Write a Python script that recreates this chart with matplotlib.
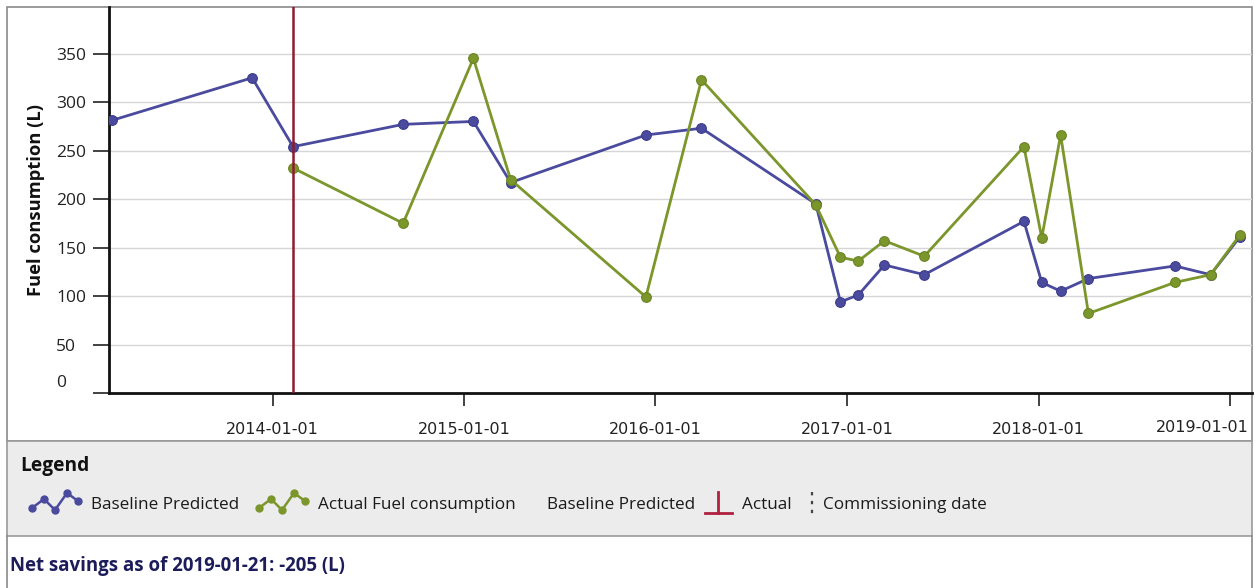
import matplotlib
matplotlib.use("Agg")
import matplotlib.pyplot as plt
from matplotlib.patches import Rectangle
from matplotlib.lines import Line2D
import numpy as np

# ---------------- data ----------------
baseline_dates = ['2013-02-28', '2013-11-23', '2014-02-09', '2014-09-07', '2015-01-19',
                  '2015-03-31', '2015-12-14', '2016-03-29', '2016-11-02', '2016-12-19',
                  '2017-01-22', '2017-03-13', '2017-05-28', '2017-12-04', '2018-01-07',
                  '2018-02-12', '2018-04-06', '2018-09-18', '2018-11-25', '2019-01-20']
baseline_values = [281, 325, 254, 277, 280, 217, 266, 273, 195, 94,
                   101, 132, 122, 177, 114, 105, 118, 131, 122, 161]

actual_dates = ['2014-02-09', '2014-09-07', '2015-01-19', '2015-03-31', '2015-12-14',
                '2016-03-29', '2016-11-02', '2016-12-19', '2017-01-22', '2017-03-13',
                '2017-05-28', '2017-12-04', '2018-01-07', '2018-02-12', '2018-04-06',
                '2018-09-18', '2018-11-25', '2019-01-20']
actual_values = [232, 175, 345, 220, 99, 323, 194, 140, 136, 157,
                 141, 254, 160, 266, 82, 114, 122, 163]

commissioning_date = '2014-02-08'
x_tick_labels = ['2014-01-01', '2015-01-01', '2016-01-01', '2017-01-01', '2018-01-01', '2019-01-01']
y_ticks = [0, 50, 100, 150, 200, 250, 300, 350]
legend_labels = ['Baseline Predicted', 'Actual Fuel consumption', 'Baseline Predicted',
                 'Actual', 'Commissioning date']
net_savings_text = 'Net savings as of 2019-01-21: -205 (L)'

# ---------------- style ----------------
W, H = 1255, 588
BLUE = '#4a4a9e'
GREEN = '#7b962a'
RED = '#8e1b2e'
FONT = 'Open Sans'
TXT = '#222222'

def fx(x):
    return x / W

def fy(y):
    return 1 - y / H

fig = plt.figure(figsize=(W / 100, H / 100), dpi=100, facecolor='white')

# panels (pixel layout)
fig.add_artist(Rectangle((fx(7), fy(441)), fx(1252) - fx(7), fy(7) - fy(441),
                         transform=fig.transFigure, facecolor='white', edgecolor='#8a8a8a',
                         lw=1.2, zorder=0))
fig.add_artist(Rectangle((fx(7), fy(536)), fx(1252) - fx(7), fy(441) - fy(536),
                         transform=fig.transFigure, facecolor='#ececec', edgecolor='#9a9a9a',
                         lw=1.2, zorder=0))
for xx in (7, 1252):
    fig.add_artist(Line2D([fx(xx), fx(xx)], [fy(536), 0], transform=fig.transFigure,
                          color='#8a8a8a', lw=1.2))

ax = fig.add_axes([fx(109), fy(393), fx(1252) - fx(109), fy(7) - fy(393)])
ax.set_facecolor('none')

bd = np.array(baseline_dates, dtype='datetime64[D]')
ad = np.array(actual_dates, dtype='datetime64[D]')

ax.plot(bd, baseline_values, color=BLUE, lw=2.0, marker='o', ms=7,
        markerfacecolor=BLUE, markeredgecolor='#3c3c8a', markeredgewidth=0.8, zorder=3)
ax.plot(ad, actual_values, color=GREEN, lw=2.0, marker='o', ms=7,
        markerfacecolor=GREEN, markeredgecolor='#6a8424', markeredgewidth=0.8, zorder=4)
ax.axvline(np.datetime64(commissioning_date), color=RED, lw=1.8, zorder=5)

ax.set_xlim(np.datetime64('2013-02-23'), np.datetime64('2019-02-12'))
ax.set_ylim(0, 398)

ax.set_xticks(np.array(x_tick_labels, dtype='datetime64[D]'))
ax.set_xticklabels(x_tick_labels[:-1] + [''], fontsize=11.5, family='DejaVu Sans', color=TXT)
fig.text(fx(1249), fy(428), x_tick_labels[-1], fontsize=11.5, family='DejaVu Sans', color=TXT,
         ha='right', va='center')
ax.set_yticks(y_ticks)
ax.set_yticklabels([''] + [str(v) for v in y_ticks[1:]], fontsize=12.5, family=FONT, color=TXT)
for lab in ax.get_yticklabels():
    lab.set_horizontalalignment('left')
fig.text(fx(56), fy(383), str(y_ticks[0]), fontsize=12.5, family=FONT, color=TXT,
         ha='left', va='center')

ax.tick_params(axis='y', length=11.5, width=1.2, pad=26.6, color=TXT)
ax.tick_params(axis='x', length=9.5, width=1.2, pad=11.3, color=TXT)

for s in ('top', 'right'):
    ax.spines[s].set_visible(False)
for s in ('left', 'bottom'):
    ax.spines[s].set_color('#111111')
    ax.spines[s].set_linewidth(2.0)

ax.grid(axis='y', color='#d6d6d6', lw=1.0, zorder=0)
ax.set_axisbelow(True)
for gl, v in zip(ax.yaxis.get_gridlines(), y_ticks):
    if v == 0:
        gl.set_visible(False)

ax.set_ylabel('Fuel consumption (L)', fontsize=13.2, family=FONT, fontweight='bold',
              color='#111111')
ax.yaxis.set_label_coords((45 - 109) / 1143, 0.5)

# ---------------- legend panel ----------------
fig.text(fx(20), fy(466), 'Legend', fontsize=13.8, family=FONT, fontweight='bold',
         color='#111111', ha='left', va='center')

ly = 505
LFS = 12.3
icon_dx = [0, 12, 23, 35, 46]
icon_dy = [3, -6, 5, -12, -4]

def zigzag(x0, color):
    xs = [fx(x0 + d) for d in icon_dx]
    ys = [fy(ly + d) for d in icon_dy]
    fig.add_artist(Line2D(xs, ys, transform=fig.transFigure, color=color, lw=1.8,
                          marker='o', ms=5, markerfacecolor=color, markeredgecolor=color))

zigzag(32, BLUE)
fig.text(fx(91), fy(ly), legend_labels[0], fontsize=LFS, family=FONT, color='#1a1a1a',
         ha='left', va='center')
zigzag(259, GREEN)
fig.text(fx(318), fy(ly), legend_labels[1], fontsize=LFS, family=FONT, color='#1a1a1a',
         ha='left', va='center')
fig.text(fx(547), fy(ly), legend_labels[2], fontsize=LFS, family=FONT, color='#1a1a1a',
         ha='left', va='center')
# red "Actual" icon
fig.add_artist(Line2D([fx(718), fx(718)], [fy(492), fy(513)], transform=fig.transFigure,
                      color='#b02040', lw=2.0))
fig.add_artist(Line2D([fx(705), fx(732)], [fy(513), fy(513)], transform=fig.transFigure,
                      color='#b02040', lw=2.0))
fig.text(fx(742), fy(ly), legend_labels[3], fontsize=LFS, family=FONT, color='#1a1a1a',
         ha='left', va='center')
fig.add_artist(Line2D([fx(812), fx(812)], [fy(492), fy(518)], transform=fig.transFigure,
                      color='#444444', lw=1.6, ls=(0, (1.5, 2.5))))
fig.text(fx(823), fy(ly), legend_labels[4], fontsize=LFS, family=FONT, color='#1a1a1a',
         ha='left', va='center')

fig.text(fx(10), fy(566), net_savings_text, fontsize=13.4, family=FONT, fontweight='bold',
         color='#1c1c5a', ha='left', va='center')

fig.savefig('out.png', dpi=100, facecolor='white')
